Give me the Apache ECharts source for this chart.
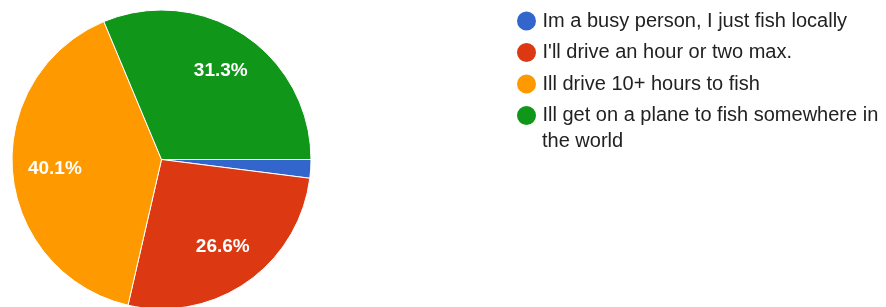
<!DOCTYPE html>
<html>
<head>
	<meta charset="utf-8" />
	<title>Fishing distance</title>
	<script src="https://cdn.jsdelivr.net/npm/echarts@6/dist/echarts.min.js"></script>
	<style>
		html, body { margin: 0; padding: 0; background: #fff; }
		#chart { width: 886px; height: 307px; }
	</style>
</head>
<body>
<div id="chart"></div>
<script type="text/javascript">
	// answers and their share of responses (%)
	var answers = [
		'Im a busy person, I just fish locally',
		"I'll drive an hour or two max.",
		'Ill drive 10+ hours to fish',
		'Ill get on a plane to fish somewhere in the world'
	];
	var shares = [2.0, 26.6, 40.1, 31.3];
	var colors = ['#3366cc', '#dc3912', '#ff9900', '#109618'];

	var pieData = answers.map(function (name, i) {
		return { name: name, value: shares[i] };
	});
	// the tiny slice gets no label, like the original
	var labelData = answers.map(function (name, i) {
		return { name: name, value: shares[i], label: { show: shares[i] >= 5 } };
	});

	// the long answer wraps under itself; echarts would centre both lines on the dot,
	// so the legend keeps the first line and the rest goes underneath as plain text
	var longName = answers[answers.length - 1];
	var cut = longName.indexOf(' the world');
	var longFirst = longName.slice(0, cut);
	var longRest = longName.slice(cut + 1);

	var FONT = 'Liberation Sans, Arial, sans-serif';
	var LEG_LEFT = 510, LEG_TOP = 3, ROW = 31.5;

	var myChart = echarts.init(document.getElementById('chart'));
	var option = {
		animation: false,
		color: colors,
		legend: {
			orient: 'vertical',
			left: LEG_LEFT,
			top: LEG_TOP,
			icon: 'circle',
			itemWidth: 22,
			itemHeight: 21,
			itemGap: ROW - 26,
			selectedMode: false,
			data: answers,
			formatter: function (name) {
				return name === longName ? longFirst : name;
			},
			textStyle: {
				fontFamily: FONT,
				fontSize: 20,
				lineHeight: 26,
				color: '#222'
			}
		},
		graphic: [{
			type: 'text',
			x: LEG_LEFT + 5 + 22 + 5,
			y: LEG_TOP + 5 + 13 + 3 * ROW + 26,
			silent: true,
			style: {
				text: longRest,
				fontFamily: FONT,
				fontSize: 20,
				fill: '#222',
				verticalAlign: 'middle'
			}
		}],
		series: [
			{
				name: 'pie',
				type: 'pie',
				center: [161.5, 159.5],
				radius: [0, 149.5],
				startAngle: 0,
				clockwise: true,
				silent: true,
				label: { show: false },
				labelLine: { show: false },
				itemStyle: { borderColor: '#fff', borderWidth: 1 },
				emphasis: { disabled: true },
				data: pieData
			},
			{
				// invisible ring, only here so the labels sit at ~0.7 of the radius
				name: 'labels',
				type: 'pie',
				center: [161.5, 159.5],
				radius: [58.5, 149.5],
				startAngle: 0,
				clockwise: true,
				silent: true,
				percentPrecision: 1,
				itemStyle: { color: 'rgba(0,0,0,0)', borderWidth: 0 },
				label: {
					show: true,
					position: 'inside',
					formatter: '{d}%',
					color: '#fff',
					fontFamily: FONT,
					fontSize: 19,
					fontWeight: 'bold'
				},
				labelLine: { show: false },
				emphasis: { disabled: true },
				data: labelData
			}
		]
	};
	myChart.setOption(option);
</script>
</body>
</html>
